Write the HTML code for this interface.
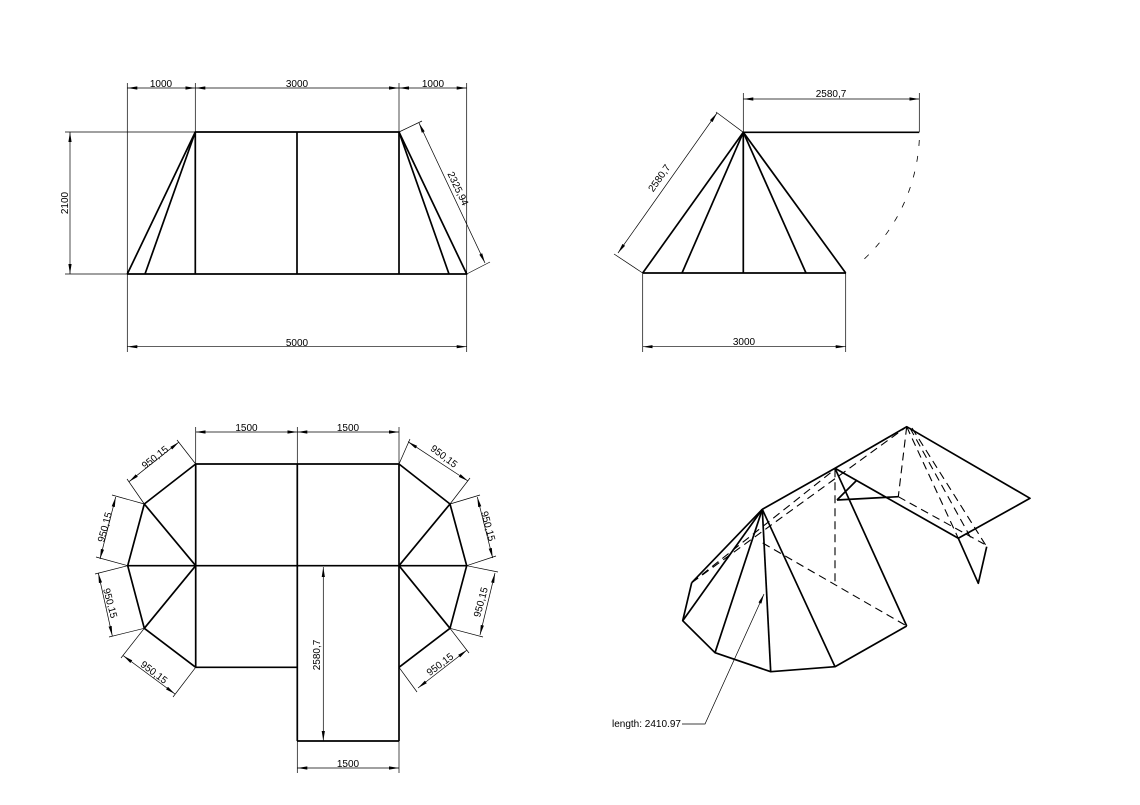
<!DOCTYPE html>
<html><head><meta charset="utf-8"><style>
html,body{margin:0;padding:0;background:#fff;}
svg{display:block;}
text{font-family:"Liberation Sans",sans-serif;font-size:10px;fill:#000;}
.m{stroke:#000;stroke-width:1.7;fill:none;stroke-linejoin:round;}
.d{stroke:#000;stroke-width:0.7;fill:none;}
.a{stroke:#000;stroke-width:0.7;fill:none;marker-start:url(#ar);marker-end:url(#ar);}
.h{stroke:#000;stroke-width:1.1;fill:none;stroke-dasharray:8 5;}
</style></head><body>
<svg width="1140" height="805" viewBox="0 0 1140 805" xmlns="http://www.w3.org/2000/svg">
<defs><marker id="ar" viewBox="0 0 10 4" refX="10" refY="2" markerWidth="10" markerHeight="4" markerUnits="userSpaceOnUse" orient="auto-start-reverse"><path d="M10,2 L0,0.4 L0,3.6 Z" fill="#000"/></marker></defs>

<!-- TOP LEFT -->
<g>
<polyline class="m" points="127.3,274 195.3,132 399,132 466.7,274 127.3,274"/>
<line class="m" x1="145" y1="274" x2="195.3" y2="132"/>
<line class="m" x1="195.3" y1="132" x2="195.3" y2="274"/>
<line class="m" x1="297" y1="132" x2="297" y2="274"/>
<line class="m" x1="399" y1="132" x2="399" y2="274"/>
<line class="m" x1="449" y1="274" x2="399" y2="132"/>
<line class="d" x1="127.3" y1="83" x2="127.3" y2="352"/>
<line class="d" x1="195.3" y1="83" x2="195.3" y2="132"/>
<line class="d" x1="399" y1="83" x2="399" y2="132"/>
<line class="d" x1="466.7" y1="83" x2="466.7" y2="352"/>
<line class="d" x1="65" y1="132" x2="195.3" y2="132"/>
<line class="d" x1="65" y1="274" x2="127.3" y2="274"/>
<line class="d" x1="399" y1="132" x2="422" y2="121"/>
<line class="d" x1="466.7" y1="274" x2="490" y2="262"/>
<line class="a" x1="127.3" y1="88" x2="195.3" y2="88"/>
<line class="a" x1="195.3" y1="88" x2="399" y2="88"/>
<line class="a" x1="399" y1="88" x2="466.7" y2="88"/>
<line class="a" x1="70" y1="132" x2="70" y2="274"/>
<line class="a" x1="127.3" y1="346.7" x2="466.7" y2="346.7"/>
<line class="a" x1="419" y1="123" x2="485" y2="263"/>
<text x="161" y="87" text-anchor="middle">1000</text>
<text x="297" y="87" text-anchor="middle">3000</text>
<text x="433" y="87" text-anchor="middle">1000</text>
<text x="297" y="346" text-anchor="middle">5000</text>
<text transform="translate(68,203) rotate(-90)" text-anchor="middle">2100</text>
<text transform="translate(455,190) rotate(64.8)" text-anchor="middle">2325,94</text>
</g>

<!-- TOP RIGHT -->
<g>
<line class="m" x1="642.7" y1="273" x2="845.7" y2="273"/>
<line class="m" x1="743.3" y1="132.3" x2="642.7" y2="273"/>
<line class="m" x1="743.3" y1="132.3" x2="682" y2="273"/>
<line class="m" x1="743.3" y1="132.3" x2="743.3" y2="273"/>
<line class="m" x1="743.3" y1="132.3" x2="806" y2="273"/>
<line class="m" x1="743.3" y1="132.3" x2="845.7" y2="273"/>
<line class="m" x1="743.3" y1="132.3" x2="919.3" y2="132.3"/>
<path class="h" style="stroke-width:0.8;stroke-dasharray:6 10" d="M919.3,140 A176,176 0 0 1 861,262"/>
<line class="d" x1="743.3" y1="93" x2="743.3" y2="132"/>
<line class="d" x1="919.3" y1="93" x2="919.3" y2="132"/>
<line class="d" x1="743.3" y1="132.3" x2="716" y2="112"/>
<line class="d" x1="642.7" y1="273" x2="614" y2="254"/>
<line class="d" x1="642.7" y1="273" x2="642.7" y2="352"/>
<line class="d" x1="845.7" y1="273" x2="845.7" y2="352"/>
<line class="a" x1="743.3" y1="99" x2="919.3" y2="99"/>
<line class="a" x1="717" y1="113" x2="618" y2="253"/>
<line class="a" x1="642.7" y1="346.7" x2="845.7" y2="346.7"/>
<text x="831" y="97" text-anchor="middle">2580,7</text>
<text x="744" y="345" text-anchor="middle">3000</text>
<text transform="translate(662,180) rotate(-54.7)" text-anchor="middle">2580,7</text>
</g>

<!-- BOTTOM LEFT -->
<g>
<line class="m" x1="195.7" y1="464" x2="399" y2="464"/>
<line class="m" x1="127.7" y1="565.7" x2="466.7" y2="565.7"/>
<line class="m" x1="195.7" y1="667.3" x2="297.3" y2="667.3"/>
<line class="m" x1="195.7" y1="464" x2="195.7" y2="667.3"/>
<line class="m" x1="297.3" y1="464" x2="297.3" y2="741"/>
<line class="m" x1="399" y1="464" x2="399" y2="741"/>
<line class="m" x1="297.3" y1="741" x2="399" y2="741"/>
<polyline class="m" points="195.7,464 144.3,504 127.7,565.7 144.3,628.3 195.7,667.3"/>
<line class="m" x1="195.7" y1="565.7" x2="144.3" y2="504"/>
<line class="m" x1="195.7" y1="565.7" x2="144.3" y2="628.3"/>
<polyline class="m" points="399,464 450,504 466.7,565.7 450,628.3 399,667.3"/>
<line class="m" x1="399" y1="565.7" x2="450" y2="504"/>
<line class="m" x1="399" y1="565.7" x2="450" y2="628.3"/>
<line class="d" x1="195.7" y1="427" x2="195.7" y2="464"/>
<line class="d" x1="297.3" y1="427" x2="297.3" y2="464"/>
<line class="d" x1="399" y1="427" x2="399" y2="464"/>
<line class="d" x1="297.3" y1="741" x2="297.3" y2="773"/>
<line class="d" x1="399" y1="741" x2="399" y2="773"/>
<line class="a" x1="195.7" y1="432" x2="297.3" y2="432"/>
<line class="a" x1="297.3" y1="432" x2="399" y2="432"/>
<line class="a" x1="297.3" y1="768" x2="399" y2="768"/>
<line class="a" x1="323.3" y1="567" x2="323.3" y2="741"/>
<text x="246.5" y="431" text-anchor="middle">1500</text>
<text x="348" y="431" text-anchor="middle">1500</text>
<text x="348" y="767" text-anchor="middle">1500</text>
<text transform="translate(320,655) rotate(-90)" text-anchor="middle">2580,7</text>
<line class="d" x1="195.7" y1="464" x2="177" y2="440"/>
<line class="d" x1="144.3" y1="504" x2="127" y2="479"/>
<line class="a" x1="179" y1="442" x2="129" y2="481.7"/>
<text transform="translate(157,460) rotate(-38)" text-anchor="middle">950,15</text>
<line class="d" x1="144.3" y1="504" x2="112" y2="495"/>
<line class="d" x1="127.7" y1="565.7" x2="96" y2="557"/>
<line class="a" x1="115.7" y1="497" x2="100" y2="559"/>
<text transform="translate(108,528) rotate(-75)" text-anchor="middle">950,15</text>
<line class="d" x1="127.7" y1="565.7" x2="95" y2="574"/>
<line class="d" x1="144.3" y1="628.3" x2="109" y2="637"/>
<line class="a" x1="98.3" y1="573" x2="112.3" y2="636"/>
<text transform="translate(107,604) rotate(75)" text-anchor="middle">950,15</text>
<line class="d" x1="144.3" y1="628.3" x2="121" y2="658"/>
<line class="d" x1="195.7" y1="667.3" x2="173" y2="697"/>
<line class="a" x1="123.3" y1="655.7" x2="175" y2="694"/>
<text transform="translate(152,675) rotate(37)" text-anchor="middle">950,15</text>
<line class="d" x1="399" y1="464" x2="410" y2="439"/>
<line class="d" x1="450" y1="504" x2="470" y2="478"/>
<line class="a" x1="408" y1="441.7" x2="468" y2="481"/>
<text transform="translate(442,459) rotate(37)" text-anchor="middle">950,15</text>
<line class="d" x1="450" y1="504" x2="480" y2="495"/>
<line class="d" x1="466.7" y1="565.7" x2="496" y2="556"/>
<line class="a" x1="477.3" y1="497" x2="492.7" y2="558"/>
<text transform="translate(485,527) rotate(75)" text-anchor="middle">950,15</text>
<line class="d" x1="466.7" y1="565.7" x2="498" y2="572"/>
<line class="d" x1="450" y1="628.3" x2="483" y2="637"/>
<line class="a" x1="495" y1="573" x2="480" y2="635"/>
<text transform="translate(484,603) rotate(-75)" text-anchor="middle">950,15</text>
<line class="d" x1="450" y1="628.3" x2="469" y2="653"/>
<line class="d" x1="399" y1="667.3" x2="417" y2="692"/>
<line class="a" x1="418" y1="688" x2="467" y2="650"/>
<text transform="translate(442,667) rotate(-37)" text-anchor="middle">950,15</text>
</g>

<!-- BOTTOM RIGHT 3D -->
<g>
<line class="h" x1="835" y1="469.3" x2="835" y2="585"/>
<line class="h" x1="906.7" y1="426.7" x2="898.3" y2="496.7"/>
<line class="h" x1="898.3" y1="496.7" x2="984" y2="544"/>
<line class="h" x1="906.7" y1="426.7" x2="958.3" y2="538.3"/>
<line class="h" x1="910" y1="428" x2="972" y2="540"/>
<line class="h" x1="912" y1="428" x2="986.7" y2="546.7"/>
<line class="h" x1="691.7" y1="582.7" x2="835" y2="469.3"/>
<line class="h" x1="691.7" y1="582.7" x2="906.7" y2="426.7"/>
<line class="h" x1="762.7" y1="543" x2="906.7" y2="626"/>
<polyline class="m" points="762.3,509.3 835,468.3 906.7,426.7 1030,498.3 958.3,538.3 835,468.3"/>
<polyline class="m" points="958.3,538.3 978.3,583.3 986.7,546.7"/>
<line class="m" x1="837" y1="500" x2="898.3" y2="496.7"/>
<line class="m" x1="837" y1="500" x2="857" y2="480"/>
<line class="m" x1="835" y1="468.3" x2="906.7" y2="626"/>
<polyline class="m" points="691.7,582.7 682.7,620.7 715,652.7 770.7,671.7 835,666.7 906.7,626"/>
<line class="m" x1="762.3" y1="509.3" x2="691.7" y2="582.7"/>
<line class="m" x1="762.3" y1="509.3" x2="682.7" y2="620.7"/>
<line class="m" x1="762.3" y1="509.3" x2="715" y2="652.7"/>
<line class="m" x1="762.3" y1="509.3" x2="770.7" y2="671.7"/>
<line class="m" x1="762.3" y1="509.3" x2="835" y2="666.7"/>
<polyline class="d" style="marker-start:url(#ar)" points="764,594 705,724 682,724"/>
<text x="612" y="727">length: 2410.97</text>
</g>
</svg>
</body></html>
